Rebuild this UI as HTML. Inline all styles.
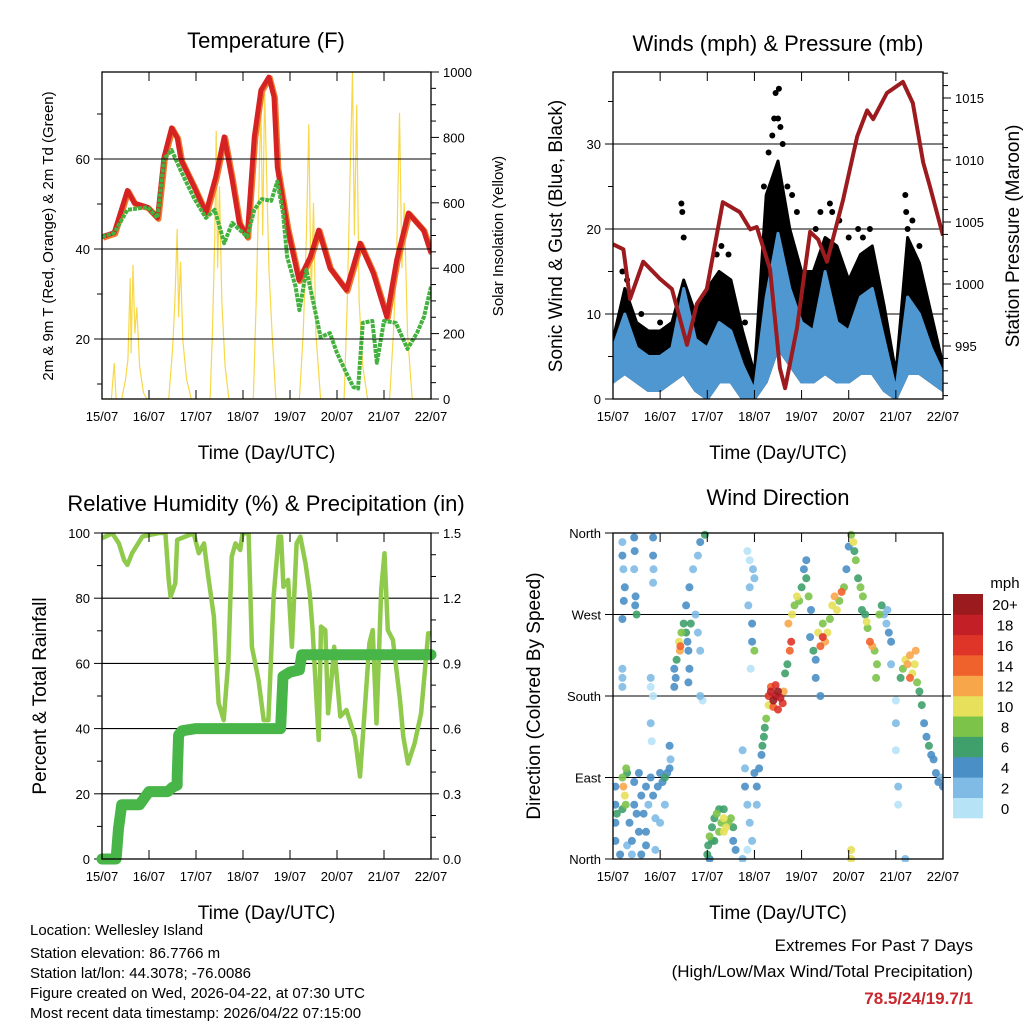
<!DOCTYPE html>
<html><head><meta charset="utf-8"><style>
html,body{margin:0;padding:0;background:#fff}
svg{display:block;font-family:"Liberation Sans",Arial,sans-serif}
</style></head><body>
<svg id="chart" width="1024" height="1024" viewBox="0 0 1024 1024" xmlns="http://www.w3.org/2000/svg">
<rect width="1024" height="1024" fill="#fff"/>
<g id="gP1"></g>
<g id="gP2"></g>
<g id="gP3"></g>
<g id="gP4"></g>
<g font-size="15" fill="#000">
<text x="30" y="935">Location: Wellesley Island</text>
<text x="30" y="958">Station elevation: 86.7766 m</text>
<text x="30" y="978">Station lat/lon: 44.3078; -76.0086</text>
<text x="30" y="998">Figure created on Wed, 2026-04-22, at 07:30 UTC</text>
<text x="30" y="1018">Most recent data timestamp: 2026/04/22 07:15:00</text>
</g>
<g font-size="17" text-anchor="end">
<text x="973" y="951">Extremes For Past 7 Days</text>
<text x="973" y="977">(High/Low/Max Wind/Total Precipitation)</text>
<text x="973" y="1004" font-weight="bold" fill="#c8282d">78.5/24/19.7/1</text>
</g>
</svg>
<script>
// ---------- data ----------
const dayLabels = ["15/07","16/07","17/07","18/07","19/07","20/07","21/07","22/07"];
const tempDays = [0,0.26,0.54,0.69,0.97,1.18,1.32,1.48,1.6,1.68,1.96,2.21,2.42,2.6,2.77,2.92,3.09,3.24,3.38,3.55,3.66,3.73,3.94,4.19,4.43,4.61,4.85,5.2,5.49,5.77,6.06,6.27,6.52,6.84,7];
const tempVals = [42.7,43.6,53,50.2,49.3,46.9,60.4,66.9,64.7,59.8,53.8,48,56,64.9,55.3,45.8,42.7,64.9,75.3,78.2,73.8,58.2,44.9,33.1,38.2,44.2,35.8,30.9,41.3,34.7,24.9,37.6,48,44.2,39.1];
const dewDays = [0,0.26,0.54,0.97,1.18,1.32,1.48,1.68,1.96,2.21,2.4,2.6,2.77,3.09,3.24,3.4,3.6,3.73,3.85,3.94,4.12,4.2,4.35,4.5,4.65,4.85,5.0,5.2,5.35,5.45,5.55,5.75,5.85,6.0,6.25,6.5,6.7,6.85,7];
const dewVals = [42.7,43.6,48.7,49.3,46.9,60,62,57.3,51.3,46.9,48.7,41.3,45.8,42.7,48.7,51.1,50.7,55,48,38.2,31.6,26.4,35.4,28,20.4,21.3,16.9,12.4,9.3,9,23.6,24,14.7,24,23.6,17.8,21.3,24.9,31.6];
const solarDays = [0,0.2,0.26,0.3,0.42,0.5,0.55,0.6,0.62,0.66,0.7,0.74,0.8,0.88,0.95,1.42,1.5,1.55,1.6,1.63,1.67,1.72,1.8,1.9,2.3,2.35,2.4,2.43,2.46,2.5,2.55,2.62,2.7,3.22,3.28,3.33,3.38,3.42,3.46,3.5,3.55,3.62,3.7,4.2,4.28,4.35,4.4,4.45,4.5,4.55,4.65,5.15,5.22,5.28,5.33,5.37,5.42,5.47,5.55,5.65,6.12,6.2,6.27,6.33,6.38,6.43,6.5,6.6,7];
const solarVals = [0,0,110,0,0,60,120,370,140,410,200,280,100,20,0,0,150,300,520,250,420,180,60,0,0,200,500,820,400,650,300,100,0,0,300,600,900,500,950,700,400,200,0,0,200,500,840,300,600,200,0,0,300,700,1000,500,900,300,100,0,0,200,450,875,400,600,200,0,0];

const windDays = [0,0.25,0.5,0.75,1,1.25,1.5,1.75,2,2.25,2.5,2.75,3,3.25,3.5,3.75,4,4.25,4.5,4.75,5,5.25,5.5,5.75,6,6.25,6.5,6.75,7];
const gustHi = [7,13,9,8,8,9,14,10,13,15,14,8,3,24,28,20,15,15,19,18,14,17,18,11,3,19,16,10,4];
const windHi = [6,10,6,5,5,6,13,7,6,9,8,4,1,12,19.5,13,9,8,15,9,8,12,13,7,1,12,10,6,3];
const windLo = [2,3,2,1,1,2,3,1,0,2,2,0,0,2,6,4,2,2,3,2,2,3,3,1,0,3,3,2,1];
const gustDotDays = [0.2,0.3,1.45,1.47,1.5,2.2,2.3,2.45,3.2,3.3,3.38,3.42,3.45,3.5,3.52,3.55,3.6,3.7,3.8,3.9,4.3,4.4,4.6,4.65,4.8,5.0,5.2,5.3,5.45,6.2,6.22,6.25,6.35,6.5,0.6,1.0,2.8];
const gustDotVals = [15,14,23,22,19,17,18,17,25,29,31,33,36,33,36.5,32,30,25,24,22,20,22,23,22,21,19,20,19,20,24,22,20,21,18,10,9,9];
const presDays = [0,0.22,0.36,0.64,1.0,1.25,1.57,1.78,1.99,2.33,2.69,2.91,3.05,3.33,3.54,3.65,3.9,4.18,4.35,4.54,4.88,5.18,5.39,5.52,5.81,6.15,6.36,6.58,6.72,7.0];
const presVals = [1003.2,1002.8,998.8,1001.8,1000.4,999.6,995.1,998.4,999.6,1006.6,1005.8,1004.4,1004.6,1001.2,993.2,991.6,996.4,1004.2,1003.6,1001.8,1006.8,1011.9,1014,1013.3,1015.4,1016.3,1014.6,1009.8,1007.9,1003.9];

const rhDays = [0,0.22,0.36,0.47,0.54,0.64,0.86,1.21,1.35,1.42,1.46,1.56,1.6,1.77,1.95,2.06,2.17,2.24,2.38,2.48,2.59,2.69,2.76,2.84,2.94,2.99,3.12,3.19,3.33,3.44,3.54,3.65,3.76,3.81,3.86,3.96,4.04,4.14,4.22,4.33,4.42,4.48,4.61,4.66,4.75,4.81,4.88,4.94,5.07,5.2,5.38,5.49,5.6,5.69,5.76,5.84,5.94,6.01,6.08,6.19,6.34,6.41,6.51,6.65,6.79,6.94,7];
const rhVals = [98.4,99.9,96.8,91.7,90.2,93.8,98.9,100,100,85.6,80.5,84.6,97.9,98.9,99.9,93.8,96.8,88.7,74.3,47.8,42.6,61,92.7,96.8,94.8,99.9,99.9,65.1,54.9,42.6,42.6,80.5,98.9,98.9,83.5,85.6,65.1,96.8,98.9,90.7,81.5,70.2,36.5,71.3,70.2,44.7,54.9,65.1,43.7,45.7,37.5,25.3,47.8,66.2,70.2,41.6,82.5,93.8,70.2,67.2,48.8,37.5,29.3,35.5,44.7,69.2,69.2];
const rainDays = [0,0.3,0.35,0.42,0.8,0.9,1.0,1.4,1.5,1.6,1.6,1.63,1.7,2.0,3.8,3.85,4.0,4.2,4.25,7];
const rainVals = [0,0,0.14,0.25,0.25,0.28,0.31,0.31,0.33,0.34,0.38,0.57,0.59,0.6,0.6,0.84,0.86,0.87,0.94,0.94];

const dirDays = [0.2,0.2,0.22,0.25,0.23,0.2,0.45,0.46,0.45,0.48,0.47,0.5,0.85,0.85,0.86,0.85,0.2,0.2,0.2,0.8,0.8,
0.05,0.05,0.05,0.05,0.08,0.2,0.22,0.25,0.27,0.2,0.3,0.28,0.35,0.4,0.45,0.5,0.55,0.6,0.65,0.7,0.7,0.75,0.8,0.85,0.9,0.95,1.0,1.05,1.1,1.15,1.1,1.0,0.9,0.6,0.4,0.7,1.2,0.45,0.55,0.3,0.15,
0.8,0.82,0.85,1.2,1.22,
1.3,1.3,1.33,1.35,1.4,1.42,1.43,1.45,1.5,1.55,1.58,1.6,1.62,1.6,1.65,1.55,1.62,1.7,1.8,1.85,1.95,1.75,1.8,1.85,1.85,1.9,
2.0,2.02,2.05,2.1,2.1,2.15,2.2,2.25,2.3,2.35,2.35,2.4,2.45,2.5,2.55,2.55,2.6,2.35,2.25,2.15,2.05,
2.85,2.9,2.9,2.87,2.95,2.95,3.0,2.92,2.97,3.0,
2.75,2.8,2.8,2.85,2.9,2.95,3.0,3.05,3.05,3.1,3.15,3.17,3.2,3.22,3.25,2.75,2.85,
3.3,3.35,3.4,3.45,3.5,3.55,3.6,3.4,3.5,3.35,3.62,3.45,3.3,
3.65,3.7,3.75,3.78,3.72,3.8,3.85,3.9,3.95,4.0,4.1,4.1,4.05,4.15,4.2,4.18,
4.25,4.3,4.3,4.35,4.4,4.45,4.5,4.55,4.6,4.65,4.7,4.75,4.8,4.85,4.9,4.95,4.4,4.45,
5.0,5.05,5.1,5.12,5.15,5.2,5.25,5.3,5.28,5.35,5.4,5.38,5.45,5.5,5.55,5.6,5.58,5.65,5.7,5.75,5.82,5.8,5.85,5.9,5.9,
6.1,6.15,6.2,6.25,6.3,6.3,6.35,6.4,6.42,6.45,6.5,6.55,6.6,6.65,6.7,6.75,6.8,6.85,6.9,6.95,7.0,6.0,6.0,6.0,6.05,6.05,6.2,5.05,5.05];
const dirDeg = [350,335,320,300,285,265,355,340,320,290,280,270,355,335,320,305,210,200,190,200,190,
80,60,40,20,50,90,80,70,60,55,95,100,40,20,60,50,30,70,50,80,30,60,90,70,45,80,95,85,90,95,60,40,10,5,5,15,100,85,95,15,5,
150,130,180,125,110,
190,210,200,220,240,230,235,250,260,250,240,230,210,195,260,280,300,320,335,350,358,270,250,230,180,175,
5,15,25,35,20,45,50,55,40,45,30,35,40,45,35,20,10,55,30,20,0,
340,330,300,280,260,240,230,210,320,310,
120,100,80,60,40,20,95,80,60,100,115,125,135,145,155,0,10,
180,185,175,180,185,178,172,168,165,190,185,192,170,
205,215,230,240,260,270,280,290,285,300,310,330,320,290,275,245,
230,220,200,250,235,245,240,250,265,280,290,275,285,295,300,320,180,260,
345,358,350,340,330,310,300,290,275,270,255,262,240,235,230,215,200,270,280,270,275,260,250,240,215,
200,210,220,215,225,200,205,215,230,195,185,170,150,135,125,115,110,95,85,90,80,175,150,120,80,60,0,10,0];
const dirSpd = [2,4,2,4,4,4,4,4,2,4,4,6,4,4,2,2,2,2,2,2,1,
4,4,4,4,6,8,12,10,8,6,6,8,4,4,4,4,4,4,4,4,4,2,4,4,2,4,4,4,6,4,2,2,2,4,2,4,4,4,4,2,4,
2,1,1,4,2,
4,4,4,6,10,12,14,8,6,6,4,4,4,4,6,4,4,2,2,4,6,2,2,2,2,1,
6,6,8,6,6,6,8,6,8,10,10,10,8,8,6,4,4,6,8,6,4,
1,1,2,2,4,4,8,1,2,2,
2,2,4,2,2,2,4,4,2,4,4,6,6,6,8,2,1,
16,18,20,18,20,18,16,14,16,14,12,16,10,
6,6,14,16,12,10,8,10,8,6,6,4,4,8,4,4,
6,4,4,10,14,16,12,10,8,10,12,10,8,14,8,4,4,8,
4,8,10,6,8,6,8,8,6,6,8,10,14,12,8,8,8,8,6,2,2,2,4,4,2,
6,8,10,12,12,14,10,10,12,8,6,6,4,4,6,4,4,4,4,2,4,1,2,1,2,1,2,10,10];
const cbLabels = ["0","2","4","6","8","10","12","14","16","18","20+"];
const cbColors = ["#b7e3f7","#7fbbe4","#4a8fc6","#3fa06c","#7cc34a","#e7e05a","#f8a64a","#f0622b","#df3428","#c21f26","#9b1a1e"];

// ---------- helpers ----------
const NS = "http://www.w3.org/2000/svg";
function mk(parent, tag, attrs, name, inter) {
  const e = document.createElementNS(NS, tag);
  for (const k in attrs) e.setAttribute(k, attrs[k]);
  
  
  parent.appendChild(e);
  return e;
}
function txt(parent, x, y, s, size, name, extra) {
  const t = mk(parent, 'text', Object.assign({x: x, y: y, 'font-size': size}, extra || {}), name, false);
  t.textContent = s;
  return t;
}
function lin(d0, d1, r0, r1) { return v => r0 + (v - d0) / (d1 - d0) * (r1 - r0); }
function pathFrom(xs, ys, fx, fy) {
  return xs.map((d, i) => (i ? 'L' : 'M') + fx(d).toFixed(1) + ',' + fy(ys[i]).toFixed(1)).join('');
}
function frame(g, L, T, R, B, name) {
  const fx = lin(0, 7, L, R);
  for (let i = 0; i <= 7; i++) {
    const x = fx(i);
    mk(g, 'line', {x1: x, y1: B, x2: x, y2: B - 9, stroke: '#000', 'stroke-width': 1}, 'x-tick', false);
    mk(g, 'line', {x1: x, y1: T, x2: x, y2: T + 9, stroke: '#000', 'stroke-width': 1}, 'x-tick-top', false);
    txt(g, x, B + 22, dayLabels[i], 13, 'x-tick-label', {'text-anchor': 'middle'});
  }
  txt(g, (L + R) / 2, B + 60, 'Time (Day/UTC)', 19, 'x-axis-title', {'text-anchor': 'middle'});
  mk(g, 'rect', {x: L, y: T, width: R - L, height: B - T, fill: 'none', stroke: '#000', 'stroke-width': 1.3}, name + '-frame', false);
}
function leftTicks(g, L, R, ticks, labels, fy, minor, grid) {
  ticks.forEach((v, i) => {
    const y = fy(v);
    mk(g, 'line', {x1: L - 8, y1: y, x2: L, y2: y, stroke: '#000'}, 'y-tick', false);
    if (grid) mk(g, 'line', {x1: L, y1: y, x2: R, y2: y, stroke: '#000', 'stroke-width': 1.1}, 'grid-line', false);
    txt(g, L - 12, y + 5, labels[i], 13, 'y-tick-label', {'text-anchor': 'end'});
  });
  (minor || []).forEach(v => mk(g, 'line', {x1: L - 5, y1: fy(v), x2: L, y2: fy(v), stroke: '#000'}, 'y-minor-tick', false));
}
function rightTicks(g, R, ticks, labels, fy, minor) {
  ticks.forEach((v, i) => {
    const y = fy(v);
    mk(g, 'line', {x1: R, y1: y, x2: R + 8, y2: y, stroke: '#000'}, 'y2-tick', false);
    txt(g, R + 12, y + 5, labels[i], 13, 'y2-tick-label', {});
  });
  (minor || []).forEach(v => mk(g, 'line', {x1: R, y1: fy(v), x2: R + 5, y2: fy(v), stroke: '#000'}, 'y2-minor-tick', false));
}
function vtitle(g, x, y, s, size, name) {
  return txt(g, x, y, s, size, name, {'text-anchor': 'middle', transform: 'rotate(-90 ' + x + ' ' + y + ')'});
}

// ---------- Panel 1: Temperature ----------
(function () {
  const g = document.getElementById('gP1');
  const L = 102, R = 431, T = 72, B = 399;
  const fx = lin(0, 7, L, R), fy = lin(60, 40, 159, 249), fs = lin(0, 1000, 399, 72);
  const clip = mk(g, 'clipPath', {id: 'c1'}, 'clip', false);
  mk(clip, 'rect', {x: L, y: T, width: R - L, height: B - T}, 'clip-rect', false);
  const pl = mk(g, 'g', {'clip-path': 'url(#c1)'}, 'plot-area', false);
  mk(pl, 'path', {d: pathFrom(solarDays, solarVals, fx, fs), fill: 'none', stroke: '#f7d84a', 'stroke-width': 1.2}, 'solar-line', false);
  mk(pl, 'path', {d: pathFrom(tempDays, tempVals, fx, fy), fill: 'none', stroke: '#f07a2c', 'stroke-width': 6, 'stroke-linejoin': 'round', transform: 'translate(1,1)'}, 'temp-9m-line', false);
  mk(pl, 'path', {d: pathFrom(tempDays, tempVals, fx, fy), fill: 'none', stroke: '#d42322', 'stroke-width': 5, 'stroke-linejoin': 'round'}, 'temp-2m-line', false);
  mk(pl, 'path', {d: pathFrom(dewDays, dewVals, fx, fy), fill: 'none', stroke: '#43b13e', 'stroke-width': 4, 'stroke-dasharray': '4 1', 'stroke-linejoin': 'round'}, 'dewpoint-line', false);
  leftTicks(g, L, R, [20, 40, 60], ['20', '40', '60'], fy, [10, 30, 50, 70], true);
  rightTicks(g, R, [0, 200, 400, 600, 800, 1000], ['0', '200', '400', '600', '800', '1000'], fs, [50,100,150,250,300,350,450,500,550,650,700,750,850,900,950]);
  frame(g, L, T, R, B, 'temperature');
  txt(g, 266, 48, 'Temperature (F)', 22, 'chart-title', {'text-anchor': 'middle'});
  vtitle(g, 53, 236, '2m & 9m T (Red, Orange) & 2m Td (Green)', 15, 'y-axis-title');
  vtitle(g, 503, 236, 'Solar Insolation (Yellow)', 15, 'y2-axis-title');
})();

// ---------- Panel 2: Winds & Pressure ----------
(function () {
  const g = document.getElementById('gP2');
  const L = 613, R = 943, T = 72, B = 399;
  const fx = lin(0, 7, L, R), fy = lin(0, 10, 399, 314), fp = lin(1015, 1010, 98, 160);
  const clip = mk(g, 'clipPath', {id: 'c2'}, 'clip', false);
  mk(clip, 'rect', {x: L, y: T, width: R - L, height: B - T}, 'clip-rect', false);
  const pl = mk(g, 'g', {'clip-path': 'url(#c2)'}, 'plot-area', false);
  leftTicks(g, L, R, [0, 10, 20, 30], ['0', '10', '20', '30'], fy, [5, 15, 25, 35], false);
  [10, 20, 30].forEach(v => mk(pl, 'line', {x1: L, y1: fy(v), x2: R, y2: fy(v), stroke: '#000', 'stroke-width': 1.1}, 'grid-line', false));
  const band = (hi, lo) => pathFrom(windDays, hi, fx, fy) + pathFrom(windDays.slice().reverse(), lo.slice().reverse(), fx, fy).replace('M', 'L') + 'Z';
  mk(pl, 'path', {d: band(gustHi, windLo), fill: '#000', stroke: '#000', 'stroke-width': 3, 'stroke-linejoin': 'round'}, 'gust-band', false);
  gustDotDays.forEach((d, i) => {
    mk(pl, 'circle', {cx: fx(d).toFixed(1), cy: fy(gustDotVals[i]).toFixed(1), r: 3, fill: '#000'}, 'gust-point', false);
  });
  mk(pl, 'path', {d: band(windHi, windLo), fill: '#4f97d0', stroke: '#4f97d0', 'stroke-width': 3, 'stroke-linejoin': 'round'}, 'wind-band', false);
  mk(pl, 'path', {d: pathFrom(presDays, presVals, fx, fp), fill: 'none', stroke: '#9c1b1e', 'stroke-width': 4, 'stroke-linejoin': 'round'}, 'pressure-line', false);
  rightTicks(g, R, [995, 1000, 1005, 1010, 1015], ['995', '1000', '1005', '1010', '1015'], fp, [991,992,993,994,996,997,998,999,1001,1002,1003,1004,1006,1007,1008,1009,1011,1012,1013,1014,1016,1017]);
  frame(g, L, T, R, B, 'winds');
  txt(g, 778, 51, 'Winds (mph) & Pressure (mb)', 22, 'chart-title', {'text-anchor': 'middle'});
  vtitle(g, 562, 236, 'Sonic Wind & Gust (Blue, Black)', 19, 'y-axis-title');
  vtitle(g, 1019, 236, 'Station Pressure (Maroon)', 19, 'y2-axis-title');
})();

// ---------- Panel 3: RH & Precip ----------
(function () {
  const g = document.getElementById('gP3');
  const L = 102, R = 431, T = 533, B = 859;
  const fx = lin(0, 7, L, R), fy = lin(0, 100, 859, 533), fr = lin(0, 1.5, 859, 533);
  leftTicks(g, L, R, [0, 20, 40, 60, 80, 100], ['0', '20', '40', '60', '80', '100'], fy, [10, 30, 50, 70, 90], false);
  [20, 40, 60, 80].forEach(v => mk(g, 'line', {x1: L, y1: fy(v), x2: R, y2: fy(v), stroke: '#000', 'stroke-width': 1.1}, 'grid-line', false));
  const clip = mk(g, 'clipPath', {id: 'c3'}, 'clip', false);
  mk(clip, 'rect', {x: L - 8, y: T, width: R - L + 16, height: B - T + 8}, 'clip-rect', false);
  const pl = mk(g, 'g', {'clip-path': 'url(#c3)'}, 'plot-area', false);
  mk(pl, 'path', {d: pathFrom(rhDays, rhVals, fx, fy), fill: 'none', stroke: '#8fca4c', 'stroke-width': 4.5, 'stroke-linejoin': 'round'}, 'rh-line', false);
  mk(pl, 'path', {d: pathFrom(rainDays, rainVals, fx, fr), fill: 'none', stroke: '#47b548', 'stroke-width': 11, 'stroke-linejoin': 'round', 'stroke-linecap': 'round'}, 'rain-line', false);
  rightTicks(g, R, [0, 0.3, 0.6, 0.9, 1.2, 1.5], ['0.0', '0.3', '0.6', '0.9', '1.2', '1.5'], fr, [0.1,0.2,0.4,0.5,0.7,0.8,1.0,1.1,1.3,1.4]);
  frame(g, L, T, R, B, 'humidity');
  txt(g, 266, 511, 'Relative Humidity (%) & Precipitation (in)', 22, 'chart-title', {'text-anchor': 'middle'});
  vtitle(g, 46, 696, 'Percent & Total Rainfall', 19, 'y-axis-title');
})();

// ---------- Panel 4: Wind Direction ----------
(function () {
  const g = document.getElementById('gP4');
  const L = 613, R = 943, T = 533, B = 859;
  const fx = lin(0, 7, L, R), fy = lin(0, 360, 859, 533);
  leftTicks(g, L, R, [0, 90, 180, 270, 360], ['North', 'East', 'South', 'West', 'North'], fy, [], false);
  [90, 180, 270].forEach(v => mk(g, 'line', {x1: L, y1: fy(v), x2: R + 8, y2: fy(v), stroke: '#000', 'stroke-width': 1.1}, 'grid-line', false));
  const clip = mk(g, 'clipPath', {id: 'c4'}, 'clip', false);
  mk(clip, 'rect', {x: L, y: T - 3, width: R - L, height: B - T + 6}, 'clip-rect', false);
  const pl = mk(g, 'g', {'clip-path': 'url(#c4)'}, 'plot-area', false);
  const order = dirSpd.map((s, i) => i).sort((a, b) => dirSpd[a] - dirSpd[b]);
  order.forEach(i => {
    const ci = Math.min(10, Math.floor(dirSpd[i] / 2));
    mk(pl, 'circle', {cx: fx(dirDays[i]).toFixed(1), cy: fy(dirDeg[i]).toFixed(1), r: 4, fill: cbColors[ci], 'fill-opacity': 0.9}, 'direction-point', false);
  });
  frame(g, L, T, R, B, 'wind-direction');
  txt(g, 778, 505, 'Wind Direction', 22, 'chart-title', {'text-anchor': 'middle'});
  vtitle(g, 540, 696, 'Direction (Colored By Speed)', 19, 'y-axis-title');
  const cb = mk(g, 'g', {}, 'speed-colorbar', false);
  const h = (818 - 594) / cbColors.length;
  cbColors.forEach((c, i) => {
    const y = 818 - (i + 1) * h;
    mk(cb, 'rect', {x: 953, y: y.toFixed(1), width: 30, height: (h + 0.3).toFixed(1), fill: c}, 'colorbar-box', false);
    txt(cb, 1005, y + h / 2 + 6, cbLabels[i], 15, 'colorbar-label', {'text-anchor': 'middle'});
  });
  txt(cb, 1005, 588, 'mph', 15, 'colorbar-title', {'text-anchor': 'middle'});
})();
</script>
</body></html>
